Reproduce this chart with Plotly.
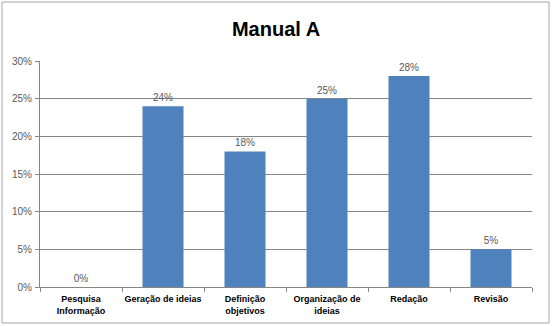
import plotly.graph_objects as go

categories = ["Pesquisa<br>Informação", "Geração de ideias", "Definição<br>objetivos",
              "Organização de<br>ideias", "Redação", "Revisão"]
values = [0.0, 0.24, 0.18, 0.25, 0.28, 0.05]
labels = ["0%", "24%", "18%", "25%", "28%", "5%"]
y_ticks = [0, 0.05, 0.10, 0.15, 0.20, 0.25, 0.30]
y_tick_labels = ["0%", "5%", "10%", "15%", "20%", "25%", "30%"]

W, H = 552, 326
ml, mr, mt, mb = 40, 20, 61, 39
pw, ph = W - ml - mr, H - mt - mb

FONT = "Liberation Sans, Arial, sans-serif"

fig = go.Figure(go.Bar(
    x=categories, y=values, marker=dict(color="#4F81BD", line=dict(width=0)),
    text=labels, textposition="outside", cliponaxis=False,
    textfont=dict(family=FONT, size=10, color="#595959"),
))

def px2x(p):
    return (p - ml) / pw

def px2y(p):
    return (H - mb - p) / ph

fig.update_layout(
    width=W, height=H, margin=dict(l=ml, r=mr, t=mt, b=mb, autoexpand=False),
    paper_bgcolor="white", plot_bgcolor="white", bargap=0.5, showlegend=False,
    title=dict(text="<b>Manual A</b>", x=0.5, xanchor="center", y=1 - 29 / H, yanchor="middle",
               font=dict(family=FONT, size=20, color="black")),
    xaxis=dict(showline=True, linecolor="#868686", ticks="outside", tickson="boundaries", ticklen=4,
               tickcolor="#868686", showgrid=False, tickangle=0, automargin=False, ticklabelstandoff=3,
               tickfont=dict(family=FONT, size=9, color="black")),
    yaxis=dict(range=[0, 0.30], tickvals=y_ticks, ticktext=y_tick_labels, showline=True, linecolor="#868686",
               ticks="outside", ticklen=4, tickcolor="#868686", showgrid=True, gridcolor="#868686", gridwidth=1,
               zeroline=False, automargin=False, ticklabelstandoff=1,
               tickfont=dict(family=FONT, size=10, color="#595959")),
    shapes=[dict(type="rect", xref="paper", yref="paper", x0=px2x(2), x1=px2x(549), y0=px2y(323), y1=px2y(2),
                 line=dict(color="#A6A6A6", width=1), layer="below")],
)
fig.update_xaxes(tickprefix="<b>", ticksuffix="</b>")

fig.write_html("out.html")
